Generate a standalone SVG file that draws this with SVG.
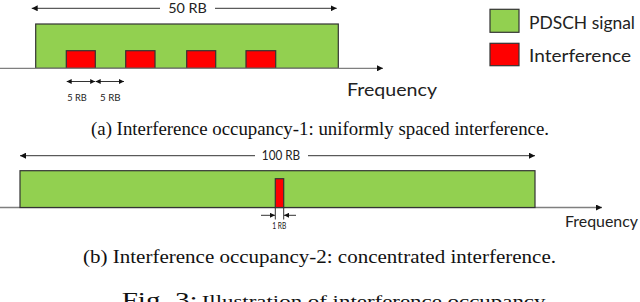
<svg xmlns="http://www.w3.org/2000/svg" width="640" height="302" viewBox="0 0 640 302">
<style>
.sig{fill:#92D050;stroke:#333;stroke-width:1.2}
.intf{fill:#FF0000;stroke:#333;stroke-width:1.2}
.axis{stroke:#7f7f7f;stroke-width:1.3;fill:none}
.dim{stroke:#333;stroke-width:1;fill:none}
.lbl{font-family:Lato,"Liberation Sans",sans-serif;fill:#222}
.cap{font-family:"Liberation Serif","Times New Roman",serif;fill:#111}
</style>
<defs>
<marker id="ah" viewBox="0 0 10 10" refX="10" refY="5" markerWidth="6" markerHeight="6" markerUnits="userSpaceOnUse" orient="auto">
<path d="M0,0 L10,5 L0,10 z" fill="#111"/>
</marker>
<marker id="ahs" viewBox="0 0 10 10" refX="10" refY="5" markerWidth="5" markerHeight="5" markerUnits="userSpaceOnUse" orient="auto">
<path d="M0,0 L10,5 L0,10 z" fill="#111"/>
</marker>
</defs>

<!-- (a) -->
<g id="plot-a">
<rect class="sig" x="35.7" y="24" width="302.6" height="44.3"/>
<rect class="intf" x="66.3" y="50.7" width="29" height="17.6"/>
<rect class="intf" x="125.7" y="50.7" width="29.3" height="17.6"/>
<rect class="intf" x="186.7" y="50.7" width="29" height="17.6"/>
<rect class="intf" x="246" y="50.7" width="29.7" height="17.6"/>
</g>
<g id="connectors">
<line class="axis" x1="0" y1="68.3" x2="383" y2="68.3" marker-end="url(#ah)"/>
<line class="dim" x1="160" y1="8.3" x2="31.7" y2="8.3" marker-end="url(#ah)"/>
<line class="dim" x1="215" y1="8.3" x2="336.7" y2="8.3" marker-end="url(#ah)"/>
<line class="dim" x1="80" y1="81.5" x2="66.7" y2="81.5" marker-end="url(#ahs)"/>
<line class="dim" x1="80" y1="81.5" x2="95.2" y2="81.5" marker-end="url(#ahs)"/>
<line class="dim" x1="110" y1="81.5" x2="95.7" y2="81.5" marker-end="url(#ahs)"/>
<line class="dim" x1="110" y1="81.5" x2="124" y2="81.5" marker-end="url(#ahs)"/>

<line class="axis" x1="0" y1="207.5" x2="602" y2="207.5" marker-end="url(#ah)"/>
<line class="dim" x1="255" y1="155.7" x2="20" y2="155.7" marker-end="url(#ah)"/>
<line class="dim" x1="308" y1="155.7" x2="535" y2="155.7" marker-end="url(#ah)"/>
<line class="dim" x1="261" y1="215.3" x2="275" y2="215.3" marker-end="url(#ahs)"/>
<line class="dim" x1="296" y1="215.3" x2="284" y2="215.3" marker-end="url(#ahs)"/>
<line class="dim" x1="275.3" y1="207.5" x2="275.3" y2="219.5"/>
<line class="dim" x1="283.7" y1="207.5" x2="283.7" y2="219.5"/>
</g>
<g id="labels-a">
<text class="lbl" x="187.5" y="12.7" font-size="14" text-anchor="middle" textLength="38.7" lengthAdjust="spacingAndGlyphs">50 RB</text>
<text class="lbl" x="77" y="100.7" font-size="10" text-anchor="middle" textLength="19.5" lengthAdjust="spacingAndGlyphs">5 RB</text>
<text class="lbl" x="110.3" y="100.7" font-size="10" text-anchor="middle" textLength="20.5" lengthAdjust="spacingAndGlyphs">5 RB</text>
<text class="lbl" x="347" y="96" font-size="17.5" textLength="90" lengthAdjust="spacingAndGlyphs">Frequency</text>
</g>

<!-- legend -->
<g id="legend-pdsch">
<rect class="sig" x="490" y="9.3" width="29" height="23"/>
<text class="lbl" x="529" y="28.5" font-size="18" textLength="106" lengthAdjust="spacingAndGlyphs">PDSCH signal</text>
</g>
<g id="legend-interference">
<rect class="intf" x="490" y="43.3" width="29" height="22.4"/>
<text class="lbl" x="529" y="61.7" font-size="18" textLength="102" lengthAdjust="spacingAndGlyphs">Interference</text>
</g>

<text class="cap" x="91" y="135" font-size="19" textLength="458" lengthAdjust="spacingAndGlyphs">(a) Interference occupancy-1: uniformly spaced interference.</text>

<!-- (b) -->
<g id="plot-b">
<rect class="sig" x="20" y="170.7" width="515" height="36.8"/>
<rect class="intf" x="275.3" y="178.7" width="8.4" height="28.8"/>
</g>
<g id="labels-b">
<text class="lbl" x="281" y="159.5" font-size="13" text-anchor="middle" textLength="38.3" lengthAdjust="spacingAndGlyphs">100 RB</text>
<text class="lbl" x="279.3" y="228.5" font-size="10" text-anchor="middle" textLength="14" lengthAdjust="spacingAndGlyphs">1 RB</text>
<text class="lbl" x="565" y="227.3" font-size="15" textLength="73" lengthAdjust="spacingAndGlyphs">Frequency</text>
</g>

<text class="cap" x="83" y="263.3" font-size="19" textLength="473" lengthAdjust="spacingAndGlyphs">(b) Interference occupancy-2: concentrated interference.</text>

<text class="cap" x="121.7" y="307" font-size="21" textLength="76" lengthAdjust="spacingAndGlyphs">Fig. 3:</text>
<text class="cap" x="201.7" y="307" font-size="17" textLength="348" lengthAdjust="spacingAndGlyphs">Illustration of interference occupancy.</text>
</svg>
